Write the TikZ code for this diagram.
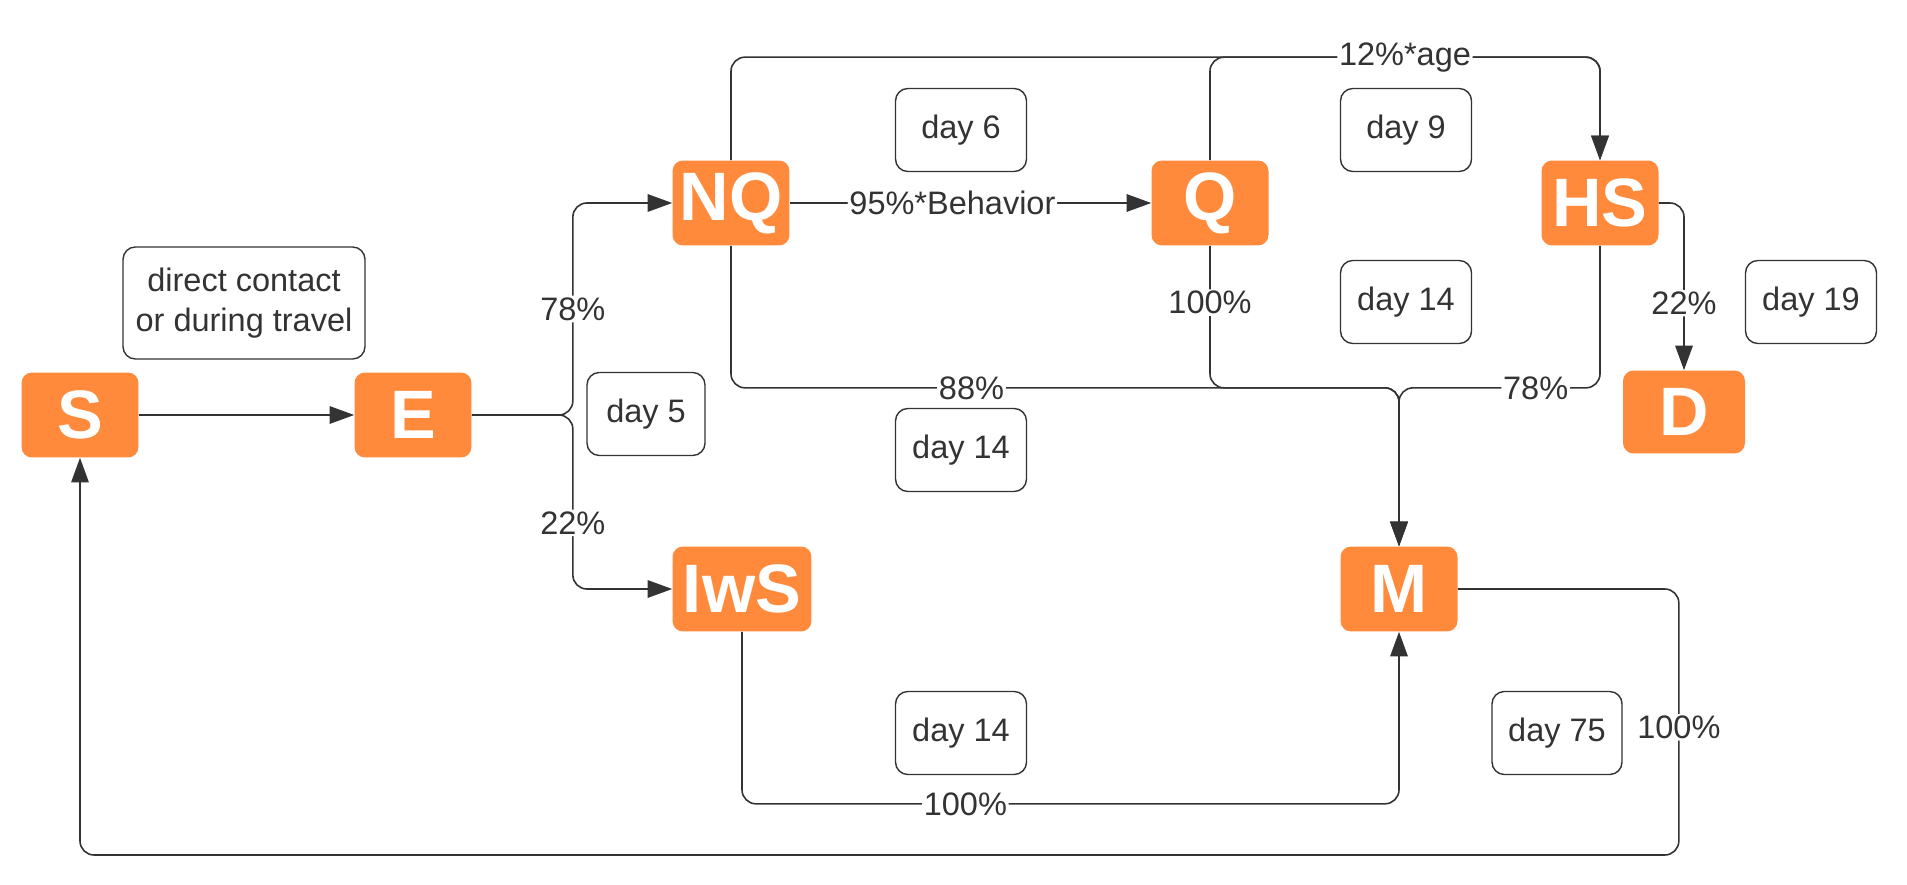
\documentclass[tikz,border=0pt]{standalone}
\usepackage{fontspec}
\setmainfont{Liberation Sans}
\usepackage{xcolor}
\usetikzlibrary{arrows.meta}
\definecolor{stateorange}{HTML}{FF8A3B}
\definecolor{linegray}{HTML}{333333}

\begin{document}
\begin{tikzpicture}[x=0.02cm,y=-0.02cm,
  state/.style={fill=stateorange,rounded corners=6pt,minimum width=2.34cm,minimum height=1.7cm,inner sep=2pt,text=white,font=\fontsize{39}{40}\selectfont\bfseries},
  note/.style={draw=linegray,line width=0.8pt,rounded corners=7pt,minimum width=2.62cm,minimum height=1.66cm,align=center,text=linegray,font=\fontsize{18.5}{23}\selectfont},
  conn/.style={draw=linegray,line width=0.9pt,rounded corners=8pt,-{Triangle[length=14pt,width=10pt]}},
  lbl/.style={fill=white,inner sep=1pt,text=linegray,font=\fontsize{18.5}{20}\selectfont}]
\useasboundingbox (0,0) rectangle (1907,885);
\node[state] (S) at (80,415) {S};
\node[state] (E) at (413,415) {E};
\node[state] (NQ) at (731,203) {NQ};
\node[state] (Q) at (1210,203) {Q};
\node[state] (HS) at (1600,203) {HS};
\node[state,minimum width=2.44cm,minimum height=1.66cm] (D) at (1684,412) {D};
\node[state,minimum width=2.78cm] (IwS) at (742,589) {IwS};
\node[state] (M) at (1399,589) {M};
\node[note,minimum width=4.84cm,minimum height=2.24cm] (contact) at (244,303) {direct contact\\or during travel};
\node[note,minimum width=2.36cm] (day5) at (646,414) {day 5};
\node[note] (day6) at (961,130) {day 6};
\node[note] (day9) at (1406,130) {day 9};
\node[note] (day14a) at (1406,302) {day 14};
\node[note] (day19) at (1811,302) {day 19};
\node[note] (day14b) at (961,450) {day 14};
\node[note] (day14c) at (961,733) {day 14};
\node[note,minimum width=2.6cm] (day75) at (1557,733) {day 75};
\draw[conn] (S) -- (E);
\draw[conn] (E.east) -- ++(101,0) |- node[lbl,pos=0.25] {78\%} (NQ.west);
\draw[conn] (E.east) -- ++(101,0) |- node[lbl,pos=0.31] {22\%} (IwS.west);
\draw[conn] (NQ) -- node[lbl,pos=0.45] {95\%*Behavior} (Q);
\draw[conn] (NQ.north) -- ++(0,-103) -| (HS.north);
\draw[conn] (Q.north) -- ++(0,-103) -| node[lbl,pos=0.25] {12\%*age} (HS.north);
\draw[conn] (NQ.south) -- ++(0,142) -| node[lbl,pos=0.18] {88\%} (M.north);
\draw[conn] (Q.south) -- node[lbl,pos=0.4] {100\%} ++(0,142) -| (M.north);
\draw[conn] (HS.south) -- ++(0,142) -| node[lbl,pos=0.16] {78\%} (M.north);
\draw[conn] (HS.east) -| node[lbl,pos=0.8] {22\%} (D.north);
\draw[conn] (IwS.south) -- ++(0,172) -| node[lbl,pos=0.17] {100\%} (M.south);
\draw[conn] (M.east) -- ++(221,0) -- node[lbl,pos=0.52] {100\%} ++(0,266) -| (S.south);
\end{tikzpicture}
\end{document}
